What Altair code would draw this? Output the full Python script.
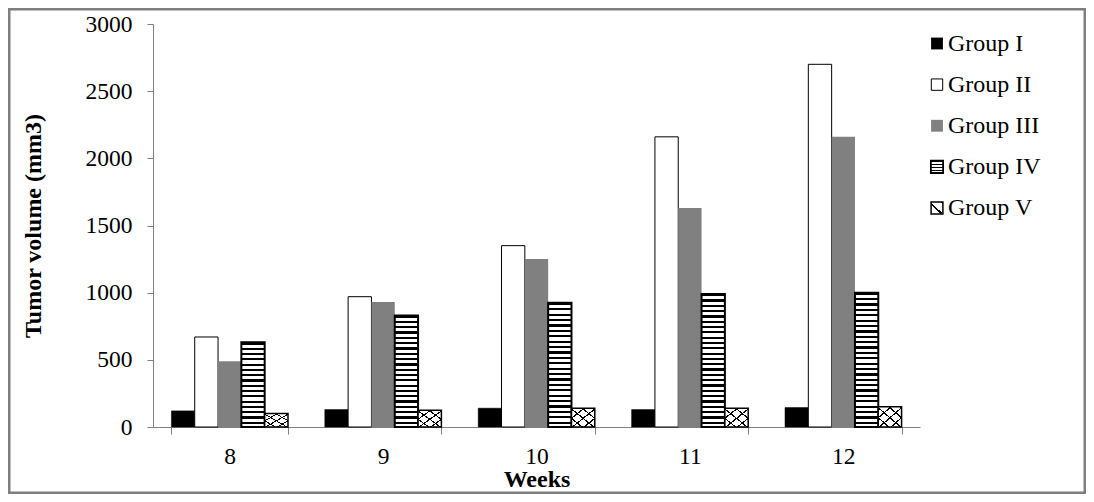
import altair as alt
import pandas as pd

# ---------------- data ----------------
weeks = ["8", "9", "10", "11", "12"]
groups = ["Group I", "Group II", "Group III", "Group IV", "Group V"]
group_i = [120, 130, 140, 130, 145]
group_ii = [670, 970, 1350, 2160, 2700]
group_iii = [490, 930, 1250, 1630, 2160]
group_iv = [630, 830, 925, 990, 1000]
group_v = [100, 125, 140, 140, 150]
y_ticks = [0, 500, 1000, 1500, 2000, 2500, 3000]

series = [group_i, group_ii, group_iii, group_iv, group_v]
rows = []
for g, vals in zip(groups, series):
    for w, v in zip(weeks, vals):
        rows.append({"week": w, "group": g, "value": v})
df = pd.DataFrame(rows)
leg_df = pd.DataFrame({"group": groups})

# ---------------- layout / style ----------------
W, H = 767, 403
Y_MAX = 3000
FONT = "Liberation Serif"
BLACK = "#000000"
GRAY = "#808080"
FRAME = "#7f7f7f"
CLEAR = "rgba(0,0,0,0)"
STRIPE_PX = 5.3


def stripes(n, dark, color, light, x1=0, y1=0, x2=0, y2=1):
    stops = []
    for i in range(n):
        a = i / n
        b = (i + dark) / n
        c = min(1.0, (i + 1) / n)
        stops += [
            {"offset": a, "color": color},
            {"offset": b, "color": color},
            {"offset": b, "color": light},
            {"offset": c, "color": light},
        ]
    return {"gradient": "linear", "x1": x1, "y1": y1, "x2": x2, "y2": y2, "stops": stops}


# per-bar horizontal stripe gradient for Group IV (constant stripe spacing)
iv_conditions = []
for w, v in zip(weeks, group_iv):
    n = max(1, round(v * H / Y_MAX / STRIPE_PX))
    iv_conditions.append({"test": f"datum.week === '{w}'", "value": stripes(n, 0.42, BLACK, "#ffffff")})
iv_fill = {"condition": iv_conditions, "value": "#ffffff"}

diag_a = stripes(4, 0.16, BLACK, CLEAR, 0, 0, 1, 1)
diag_b = stripes(4, 0.16, BLACK, CLEAR, 1, 0, 0, 1)

x_enc = alt.X(
    "week:N",
    sort=weeks,
    scale=alt.Scale(domain=weeks, paddingInner=0.24, paddingOuter=0.12),
    axis=alt.Axis(
        title="Weeks",
        labelAngle=0,
        labelFont=FONT,
        labelFontSize=23.5,
        labelColor=BLACK,
        labelPadding=10,
        domainColor=GRAY,
        tickColor=GRAY,
        tickSize=7,
        tickBand="extent",
        titleFont=FONT,
        titleFontSize=24,
        titleFontWeight="bold",
        titleColor=BLACK,
        titlePadding=0,
        grid=False,
    ),
)
xo_enc = alt.XOffset(
    "group:N", sort=groups, scale=alt.Scale(domain=groups, paddingInner=0, paddingOuter=0)
)
y_enc = alt.Y(
    "value:Q",
    scale=alt.Scale(domain=[0, Y_MAX], nice=False, zero=True),
    axis=alt.Axis(
        title="Tumor volume (mm3)",
        values=y_ticks,
        format="d",
        labelFont=FONT,
        labelFontSize=23.5,
        labelColor=BLACK,
        labelPadding=15,
        domainColor=GRAY,
        tickColor=GRAY,
        tickSize=6,
        titleFont=FONT,
        titleFontSize=24,
        titleFontWeight="bold",
        titleColor=BLACK,
        titlePadding=40,
        grid=False,
    ),
)

base = alt.Chart(df)


def grp(name):
    return base.transform_filter(alt.datum.group == name)


enc = dict(x=x_enc, xOffset=xo_enc, y=y_enc)
b1 = grp("Group I").mark_bar(fill=BLACK, stroke=BLACK, strokeWidth=0.5).encode(**enc)
b2 = grp("Group II").mark_bar(fill="#ffffff", stroke=BLACK, strokeWidth=1).encode(**enc)
b3 = grp("Group III").mark_bar(fill=GRAY, strokeWidth=0).encode(**enc)
b4 = grp("Group IV").mark_bar(stroke=BLACK, strokeWidth=2).encode(fill=iv_fill, **enc)
b5 = grp("Group V").mark_bar(fill="#ffffff", strokeWidth=0).encode(**enc)
b5a = grp("Group V").mark_bar(fill=diag_a, strokeWidth=0).encode(**enc)
b5b = grp("Group V").mark_bar(fill=diag_b, stroke=BLACK, strokeWidth=1.5).encode(**enc)

bars = alt.layer(b1, b2, b3, b4, b5, b5a, b5b)

# ---------------- hand-drawn legend (patterned symbols) ----------------
leg_y = alt.Y(
    "group:N",
    sort=groups,
    scale=alt.Scale(type="point", domain=groups, range=[19.5, 184], padding=0),
    axis=None,
)
leg_base = alt.Chart(leg_df)


def lg(name):
    return leg_base.transform_filter(alt.datum.group == name)


SYM_X = 784
s1 = lg("Group I").mark_square(size=140, fill=BLACK, strokeWidth=0, opacity=1).encode(x=alt.value(SYM_X), y=leg_y)
s2 = lg("Group II").mark_square(size=130, fill="#ffffff", stroke=BLACK, strokeWidth=1, opacity=1).encode(
    x=alt.value(SYM_X), y=leg_y
)
s3 = lg("Group III").mark_square(size=140, fill=GRAY, strokeWidth=0, opacity=1).encode(x=alt.value(SYM_X), y=leg_y)
s4 = lg("Group IV").mark_square(
    size=150, fill=stripes(4, 0.45, BLACK, "#ffffff"), stroke=BLACK, strokeWidth=1.8, opacity=1
).encode(x=alt.value(SYM_X), y=leg_y)
s5 = lg("Group V").mark_square(size=140, fill="#ffffff", strokeWidth=0, opacity=1).encode(x=alt.value(SYM_X), y=leg_y)
s5b = lg("Group V").mark_square(
    size=140, fill=stripes(2, 0.2, BLACK, CLEAR, 1, 0, 0, 1), stroke=BLACK, strokeWidth=1.5, opacity=1
).encode(x=alt.value(SYM_X), y=leg_y)
txt = leg_base.mark_text(
    align="left", baseline="middle", font=FONT, fontSize=24, color=BLACK
).encode(x=alt.value(795), y=leg_y, text="group:N")

frame = alt.Chart(pd.DataFrame({"k": [0]})).mark_rect(
    filled=False, stroke=FRAME, strokeWidth=2.5
).encode(
    x=alt.value(-143.75), x2=alt.value(W + 166 - 1.25), y=alt.value(-14.75), y2=alt.value(H + 67 - 1.25)
)

legend = alt.layer(s1, s2, s3, s4, s5, s5b, txt, frame)

chart = (
    alt.layer(bars, legend)
    .resolve_scale(y="independent")
    .properties(
        width=W,
        height=H,
        autosize=alt.AutoSizeParams(type="none"),
        padding={"left": 145, "top": 16, "right": 166, "bottom": 67},
        background="#ffffff",
    )
    .configure_view(stroke=None)
)

chart.save("out.html", embed_options={"renderer": "svg", "actions": False})
